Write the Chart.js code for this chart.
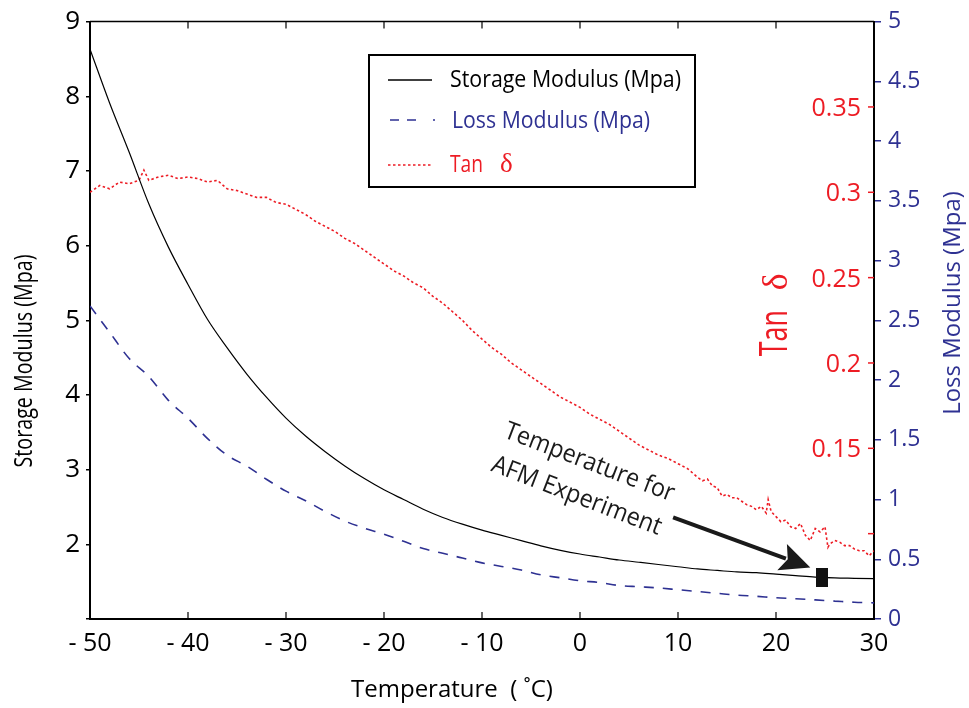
<!DOCTYPE html>
<html>
<head>
<meta charset="utf-8">
<title>DMA temperature sweep</title>
<script src="https://cdn.jsdelivr.net/npm/chart.js@4.4.1/dist/chart.umd.min.js"></script>
<style>
  html, body { margin: 0; padding: 0; background: #fff; }
</style>
</head>
<body>
<canvas id="dmaChart" width="969" height="708"></canvas>
<script>
// Temperature sweep (deg C) for the storage / loss modulus curves
const temps = [-50, -48, -46, -44, -42, -40, -38, -36, -34, -32, -30, -28, -26, -24, -22, -20, -18, -16, -14, -12,
  -10, -8, -6, -4, -2, 0, 2, 4, 6, 8, 10, 12, 14, 16, 18, 20, 22, 24, 26, 28, 30];
const storageModulus = [8.63, 7.91, 7.25, 6.56, 5.98, 5.48, 5.01, 4.63, 4.28, 3.97, 3.69, 3.45, 3.24, 3.05, 2.88, 2.73,
  2.60, 2.47, 2.36, 2.27, 2.19, 2.12, 2.05, 1.98, 1.92, 1.87, 1.83, 1.79, 1.76, 1.73, 1.70, 1.67, 1.65, 1.63, 1.62,
  1.60, 1.58, 1.56, 1.55, 1.545, 1.54];
const lossModulus = [2.62, 2.40, 2.18, 2.03, 1.83, 1.68, 1.51, 1.37, 1.28, 1.17, 1.07, 0.99, 0.90, 0.82, 0.76, 0.71,
  0.65, 0.59, 0.55, 0.51, 0.47, 0.44, 0.41, 0.37, 0.345, 0.32, 0.305, 0.28, 0.27, 0.26, 0.245, 0.23, 0.215, 0.20,
  0.19, 0.178, 0.17, 0.16, 0.15, 0.14, 0.135];

// tan delta was logged on a finer step, so it keeps its own temperature list
const tanTemps = [-50, -49, -48, -47, -46, -45, -44.5, -44, -43, -42, -41, -40, -39, -38, -37, -36, -35, -34, -33, -32,
  -31, -30, -29, -28, -27, -26, -25, -24, -23, -22, -21, -20, -19, -18, -17, -16, -15, -14, -13, -12, -11, -10, -9, -8,
  -7, -6, -5, -4, -3, -2, -1, 0, 1, 2, 3, 4, 5, 6, 7, 8, 9, 10, 11, 12, 12.5, 13, 13.5, 14, 14.5, 15, 15.5, 16, 16.5,
  17, 17.5, 18, 18.5, 19, 19.2, 19.5, 20, 20.5, 21, 21.5, 22, 22.5, 23, 23.5, 24, 24.5, 25, 25.3, 25.5, 26, 26.5, 27,
  27.5, 28, 28.5, 29, 29.5, 30];
const tanDelta = [0.300, 0.304, 0.302, 0.306, 0.305, 0.307, 0.313, 0.307, 0.309, 0.310, 0.308, 0.309, 0.308, 0.306,
  0.307, 0.302, 0.301, 0.299, 0.297, 0.297, 0.294, 0.293, 0.290, 0.287, 0.283, 0.280, 0.277, 0.273, 0.270, 0.266,
  0.262, 0.258, 0.254, 0.251, 0.247, 0.244, 0.239, 0.235, 0.230, 0.225, 0.219, 0.214, 0.209, 0.205, 0.200, 0.196,
  0.192, 0.188, 0.184, 0.180, 0.177, 0.174, 0.170, 0.167, 0.164, 0.160, 0.156, 0.152, 0.149, 0.146, 0.144, 0.141,
  0.138, 0.133, 0.131, 0.132, 0.128, 0.127, 0.122, 0.123, 0.121, 0.121, 0.119, 0.117, 0.116, 0.114, 0.116, 0.112,
  0.120, 0.113, 0.110, 0.107, 0.108, 0.104, 0.103, 0.106, 0.099, 0.096, 0.103, 0.101, 0.104, 0.092, 0.094, 0.096,
  0.095, 0.093, 0.093, 0.091, 0.090, 0.090, 0.087, 0.090];

// Axis ticks and their printed labels
const tempTicks = [-50, -40, -30, -20, -10, 0, 10, 20, 30];
const tempTickLabels = ['- 50', '- 40', '- 30', '- 20', '- 10', '0', '10', '20', '30'];
const storageTicks = [1, 2, 3, 4, 5, 6, 7, 8, 9];
const storageTickLabels = ['', '2', '3', '4', '5', '6', '7', '8', '9'];
const lossTicks = [0, 0.5, 1, 1.5, 2, 2.5, 3, 3.5, 4, 4.5, 5];
const lossTickLabels = ['0', '0.5', '1', '1.5', '2', '2.5', '3', '3.5', '4', '4.5', '5'];
const tanTicks = [0.10, 0.15, 0.20, 0.25, 0.30, 0.35];
const tanTickLabels = ['', '0.15', '0.2', '0.25', '0.3', '0.35'];

// Where the AFM measurements were taken (on the storage curve) and the note pointing at it
const afmPoint = { x: 24.7, y: 1.55 };
const noteLines = ['Temperature for', 'AFM Experiment'];
const noteCenter = { x: 0.3, y: 2.87 };
const arrowFrom = { x: 9.5, y: 2.36 };
const arrowTo = { x: 23.5, y: 1.69 };

const BLUE = '#2e3192';
const RED = '#ed1c24';
const FONT = "'Open Sans', 'Noto Sans', sans-serif";

Chart.defaults.font.family = FONT;
Chart.defaults.color = '#000';

const toXY = (xs, ys) => xs.map((t, i) => ({ x: t, y: ys[i] }));

// small filled block used as the point style of the AFM marker
const afmMarker = document.createElement('canvas');
afmMarker.width = 12;
afmMarker.height = 19;
const mctx = afmMarker.getContext('2d');
mctx.fillStyle = '#111';
mctx.fillRect(0, 0, 12, 19);

function drawText(ctx, text, x, y, o) {
  ctx.save();
  ctx.translate(x, y);
  ctx.rotate(o.rotate || 0);
  ctx.font = o.font;
  ctx.fillStyle = o.color || '#000';
  ctx.textAlign = o.align || 'center';
  ctx.textBaseline = o.baseline || 'alphabetic';
  if (o.maxWidth) ctx.fillText(text, 0, 0, o.maxWidth);
  else ctx.fillText(text, 0, 0);
  ctx.restore();
}

function strokeLine(ctx, x1, y1, x2, y2, color, width, dash) {
  ctx.save();
  ctx.strokeStyle = color;
  ctx.lineWidth = width;
  ctx.setLineDash(dash || []);
  ctx.beginPath();
  ctx.moveTo(x1, y1);
  ctx.lineTo(x2, y2);
  ctx.stroke();
  ctx.restore();
}

// frame, inward ticks, the tan delta axis, titles, legend box and the note
const decorations = {
  id: 'decorations',
  afterDraw(chart) {
    const { ctx, chartArea: a, scales } = chart;
    const { x, y, y2 } = scales;

    // top edge of the box and the inward x ticks (top and bottom)
    strokeLine(ctx, a.left, a.top, a.right, a.top, '#000', 1.5);
    tempTicks.slice(1, -1).forEach(v => {
      const px = x.getPixelForValue(v);
      strokeLine(ctx, px, a.bottom, px, a.bottom - 7, '#000', 1.2);
      strokeLine(ctx, px, a.top, px, a.top + 7, '#000', 1.2);
    });

    // tan delta axis sits just inside the right edge
    tanTicks.forEach((v, i) => {
      const py = y2.getPixelForValue(v);
      strokeLine(ctx, a.right - 6, py, a.right, py, RED, 1.5);
      if (tanTickLabels[i]) {
        drawText(ctx, tanTickLabels[i], a.right - 13, py + 2,
          { font: `25px ${FONT}`, color: RED, align: 'right', baseline: 'middle' });
      }
    });
    const tanTitleY = y2.getPixelForValue(0.204);
    drawText(ctx, 'Tan', a.right - 87, tanTitleY,
      { font: `38px ${FONT}`, color: RED, align: 'left', rotate: -Math.PI / 2, maxWidth: 46 });
    drawText(ctx, 'δ', a.right - 87, tanTitleY - 66,
      { font: `36px 'Liberation Serif', serif`, color: RED, align: 'left', rotate: -Math.PI / 2 });

    // axis titles
    drawText(ctx, 'Storage Modulus (Mpa)', 25, 361,
      { font: `25px ${FONT}`, rotate: -Math.PI / 2, baseline: 'middle', maxWidth: 213 });
    drawText(ctx, 'Loss Modulus (Mpa)', 953, 303,
      { font: `24px ${FONT}`, color: BLUE, rotate: -Math.PI / 2, baseline: 'middle', maxWidth: 230 });
    drawText(ctx, 'Temperature  ( ˚C)', 452, 697,
      { font: `24px ${FONT}`, maxWidth: 209 });

    // legend
    const ds = chart.data.datasets;
    ctx.save();
    ctx.fillStyle = '#fff';
    ctx.fillRect(369, 55, 326, 132);
    ctx.strokeStyle = '#000';
    ctx.lineWidth = 2;
    ctx.strokeRect(369, 55, 326, 132);
    ctx.restore();
    strokeLine(ctx, 388, 80, 432, 80, ds[0].borderColor, 1.3);
    strokeLine(ctx, 390, 120, 435, 120, ds[1].borderColor, 1.6, [9, 8, 9, 17, 2, 50]);
    strokeLine(ctx, 388, 165, 432, 165, ds[2].borderColor, 1.6, [2.5, 2.5]);
    drawText(ctx, ds[0].label, 450, 87, { font: `24px ${FONT}`, align: 'left', maxWidth: 231 });
    drawText(ctx, ds[1].label, 452, 128, { font: `24px ${FONT}`, color: BLUE, align: 'left', maxWidth: 198 });
    drawText(ctx, 'Tan', 450, 172, { font: `24px ${FONT}`, color: RED, align: 'left', maxWidth: 33 });
    drawText(ctx, 'δ', 500, 172, { font: `27px 'Liberation Serif', serif`, color: RED, align: 'left' });

    // note + arrow pointing at the AFM temperature
    const ang = 21 * Math.PI / 180;
    const cx = x.getPixelForValue(noteCenter.x);
    const cy = y.getPixelForValue(noteCenter.y);
    noteLines.forEach((line, i) => {
      const off = (i - 0.5) * 36;
      drawText(ctx, line, cx - Math.sin(ang) * off, cy + Math.cos(ang) * off,
        { font: `25px ${FONT}`, color: '#1a1a1a', rotate: ang, baseline: 'middle', maxWidth: 180 });
    });
    const x1 = x.getPixelForValue(arrowFrom.x), y1 = y.getPixelForValue(arrowFrom.y);
    const x2 = x.getPixelForValue(arrowTo.x), y2p = y.getPixelForValue(arrowTo.y);
    const dir = Math.atan2(y2p - y1, x2 - x1);
    const ux = Math.cos(dir), uy = Math.sin(dir);
    const headLen = 30, headHalf = 14;
    const bx = x2 - ux * headLen, by = y2p - uy * headLen;
    strokeLine(ctx, x1, y1, bx + ux * 4, by + uy * 4, '#1a1a1a', 4);
    ctx.save();
    ctx.fillStyle = '#1a1a1a';
    ctx.beginPath();
    ctx.moveTo(x2, y2p);
    ctx.lineTo(bx - uy * headHalf, by + ux * headHalf);
    ctx.lineTo(bx + ux * 6, by + uy * 6);
    ctx.lineTo(bx + uy * headHalf, by - ux * headHalf);
    ctx.closePath();
    ctx.fill();
    ctx.restore();
  }
};

const ctx = document.getElementById('dmaChart').getContext('2d');
const chart = new Chart(ctx, {
  type: 'line',
  data: {
    datasets: [
      {
        label: 'Storage Modulus (Mpa)',
        data: toXY(temps, storageModulus),
        yAxisID: 'y',
        borderColor: '#000',
        borderWidth: 1.2,
        pointRadius: 0,
        cubicInterpolationMode: 'monotone'
      },
      {
        label: 'Loss Modulus (Mpa)',
        data: toXY(temps, lossModulus),
        yAxisID: 'y1',
        borderColor: BLUE,
        borderWidth: 1.6,
        borderDash: [10, 9],
        pointRadius: 0,
        cubicInterpolationMode: 'monotone'
      },
      {
        label: 'Tan δ',
        data: toXY(tanTemps, tanDelta),
        yAxisID: 'y2',
        borderColor: RED,
        borderWidth: 1.6,
        borderDash: [2.5, 2.5],
        pointRadius: 0,
        tension: 0
      },
      {
        label: 'AFM',
        data: [afmPoint],
        yAxisID: 'y',
        showLine: false,
        pointStyle: afmMarker,
        pointRadius: 8,
        order: -1
      }
    ]
  },
  options: {
    responsive: false,
    animation: false,
    layout: { padding: { top: 15, left: 0, right: 0, bottom: 0 } },
    plugins: {
      legend: { display: false },
      tooltip: { enabled: false }
    },
    scales: {
      x: {
        type: 'linear',
        min: -50,
        max: 30,
        afterBuildTicks: s => { s.ticks = tempTicks.map(v => ({ value: v })); },
        afterFit: s => { s.height = 89; },
        ticks: {
          callback: (v, i) => tempTickLabels[i],
          font: { size: 25 },
          color: '#000',
          padding: 10,
          maxRotation: 0,
          autoSkip: false
        },
        grid: { drawOnChartArea: false, drawTicks: false },
        border: { color: '#000', width: 2 }
      },
      y: {
        position: 'left',
        min: 1,
        max: 9,
        afterBuildTicks: s => { s.ticks = storageTicks.map(v => ({ value: v })); },
        afterFit: s => { s.width = 90; },
        ticks: {
          callback: (v, i) => storageTickLabels[i],
          font: { size: 26 },
          color: '#000',
          padding: 6
        },
        grid: { drawOnChartArea: false, tickLength: 4, color: '#000', lineWidth: 1.5 },
        border: { color: '#000', width: 2 }
      },
      y1: {
        position: 'right',
        min: 0,
        max: 5,
        afterBuildTicks: s => { s.ticks = lossTicks.map(v => ({ value: v })); },
        afterFit: s => { s.width = 95; },
        ticks: {
          callback: (v, i) => lossTickLabels[i],
          font: { size: 23 },
          color: BLUE,
          padding: 7
        },
        grid: { drawOnChartArea: false, tickLength: 7, color: BLUE, lineWidth: 1.5 },
        border: { color: '#000', width: 2 }
      },
      y2: {
        display: false,
        min: 0.05,
        max: 0.40
      }
    }
  },
  plugins: [decorations]
});
</script>
</body>
</html>
